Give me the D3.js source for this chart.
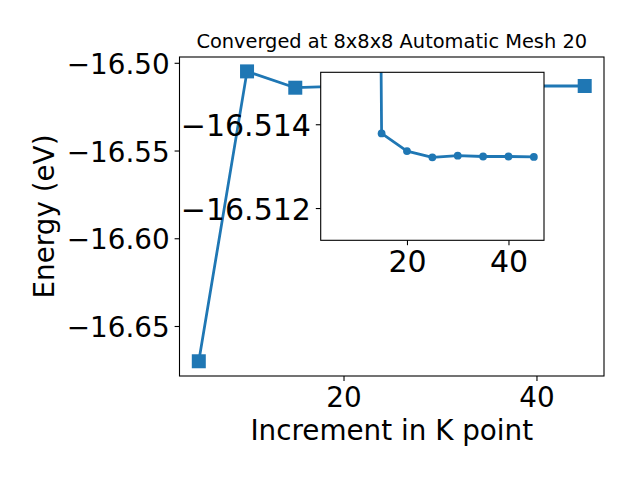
<!DOCTYPE html>
<html>
<head>
<meta charset="utf-8">
<script src="https://cdn.jsdelivr.net/npm/d3@7"></script>
<style>
  html, body { margin: 0; padding: 0; background: #fff; }
  svg { display: block; font-family: "DejaVu Sans", sans-serif; }
</style>
</head>
<body>
<svg id="chart" width="640" height="480"></svg>
<script>
// ---- data ----
const kPoints = [5, 10, 15, 20, 25, 30, 35, 40, 45];
const energy = [-16.6701, -16.5049, -16.5142, -16.51336, -16.51321, -16.51325, -16.51323, -16.51323, -16.51322];
const insetK = [5, 15, 20, 25, 30, 35, 40, 45];
const insetEnergy = [-16.6701, -16.51378, -16.51336, -16.51321, -16.51325, -16.51323, -16.51323, -16.51322];
const mainXTicks = [20, 40];
const mainYTicks = [-16.65, -16.60, -16.55, -16.50];
const insetXTicks = [20, 40];
const insetYTicks = [-16.514, -16.512];
const titleText = "Converged at 8x8x8 Automatic Mesh 20";
const xLabel = "Increment in K point";
const yLabel = "Energy (eV)";

const color = "#1f77b4";
const svg = d3.select("#chart");
const tickLen = 4.9, tickPad = 4.9, fs = 27.8, fsInset = 30;

// ---- main axes ----
const M = { left: 179.5, right: 604, top: 57, bottom: 376 };
const x = d3.scaleLinear().domain([3, 47]).range([M.left, M.right]);
const y = d3.scaleLinear().domain([-16.6785, -16.4967]).range([M.bottom, M.top]);

svg.append("defs").append("clipPath").attr("id", "clipMain")
  .append("rect").attr("x", M.left).attr("y", M.top)
  .attr("width", M.right - M.left).attr("height", M.bottom - M.top);

const line = d3.line().x((d, i) => x(kPoints[i])).y(d => y(d));
const gMain = svg.append("g");
gMain.append("path").datum(energy)
  .attr("d", line)
  .attr("fill", "none").attr("stroke", color).attr("stroke-width", 2.78)
  .attr("stroke-linejoin", "round").attr("clip-path", "url(#clipMain)");
gMain.selectAll("rect.m").data(energy).enter().append("rect")
  .attr("class", "m")
  .attr("x", (d, i) => x(kPoints[i]) - 7).attr("y", d => y(d) - 7)
  .attr("width", 14).attr("height", 14).attr("fill", color);

// axes
const xAxis = d3.axisBottom(x).tickValues(mainXTicks).tickSize(tickLen).tickPadding(tickPad).tickFormat(d3.format("d"));
const yAxis = d3.axisLeft(y).tickValues(mainYTicks).tickSize(tickLen).tickPadding(tickPad).tickFormat(d => d3.format(".2f")(d).replace("-", "\u2212"));

function styleAxis(g, size) {
  g.select(".domain").remove();
  g.selectAll(".tick line").attr("stroke", "#000").attr("stroke-width", 1.1);
  g.selectAll(".tick text").attr("fill", "#000").style("font-size", size + "px").style("font-family", "DejaVu Sans");
}
const gx = svg.append("g").attr("transform", `translate(0,${M.bottom})`).call(xAxis);
styleAxis(gx, fs);
gx.selectAll(".tick text").attr("y", 31.3).attr("dy", null);
const gy = svg.append("g").attr("transform", `translate(${M.left},0)`).call(yAxis);
styleAxis(gy, fs);
gy.selectAll(".tick text").attr("dy", "0.38em");

svg.append("rect").attr("x", M.left).attr("y", M.top)
  .attr("width", M.right - M.left).attr("height", M.bottom - M.top)
  .attr("fill", "none").attr("stroke", "#000").attr("stroke-width", 1.1);

// labels
svg.append("text").attr("x", (M.left + M.right) / 2).attr("y", 48.3)
  .attr("text-anchor", "middle").style("font-size", "19.4px").attr("fill", "#000").text(titleText);
svg.append("text").attr("x", (M.left + M.right) / 2).attr("y", 440)
  .attr("text-anchor", "middle").style("font-size", fs + "px").attr("fill", "#000").text(xLabel);
svg.append("text").attr("transform", `translate(54,${(M.top + M.bottom) / 2}) rotate(-90)`)
  .attr("text-anchor", "middle").style("font-size", fs + "px").attr("fill", "#000").text(yLabel);

// ---- inset axes ----
const I = { left: 320.7, right: 544, top: 72.3, bottom: 240.3 };
const xi = d3.scaleLinear().domain([3, 47]).range([I.left, I.right]);
const yi = d3.scaleLinear().domain([-16.51123, -16.51524]).range([I.bottom, I.top]);

svg.append("defs").append("clipPath").attr("id", "clipInset")
  .append("rect").attr("x", I.left).attr("y", I.top)
  .attr("width", I.right - I.left).attr("height", I.bottom - I.top);

svg.append("rect").attr("x", I.left).attr("y", I.top)
  .attr("width", I.right - I.left).attr("height", I.bottom - I.top)
  .attr("fill", "#fff");

const gIn = svg.append("g").attr("clip-path", "url(#clipInset)");
const lineI = d3.line().x((d, i) => xi(insetK[i])).y(d => yi(d));
gIn.append("path").datum(insetEnergy).attr("d", lineI)
  .attr("fill", "none").attr("stroke", color).attr("stroke-width", 2.78)
  .attr("stroke-linejoin", "round");
gIn.selectAll("circle").data(insetEnergy).enter().append("circle")
  .attr("cx", (d, i) => xi(insetK[i])).attr("cy", d => yi(d)).attr("r", 3.9)
  .attr("fill", color);

const xiAxis = d3.axisBottom(xi).tickValues(insetXTicks).tickSize(tickLen).tickPadding(tickPad).tickFormat(d3.format("d"));
const yiAxis = d3.axisLeft(yi).tickValues(insetYTicks).tickSize(tickLen).tickPadding(tickPad).tickFormat(d => d3.format(".3f")(d).replace("-", "\u2212"));
const gxi = svg.append("g").attr("transform", `translate(0,${I.bottom})`).call(xiAxis);
styleAxis(gxi, fsInset);
gxi.selectAll(".tick text").attr("y", 31.4).attr("dy", null);
const gyi = svg.append("g").attr("transform", `translate(${I.left},0)`).call(yiAxis);
styleAxis(gyi, fsInset);
gyi.selectAll(".tick text").attr("dy", "0.39em");

svg.append("rect").attr("x", I.left).attr("y", I.top)
  .attr("width", I.right - I.left).attr("height", I.bottom - I.top)
  .attr("fill", "none").attr("stroke", "#000").attr("stroke-width", 1.1);
</script>
</body>
</html>
